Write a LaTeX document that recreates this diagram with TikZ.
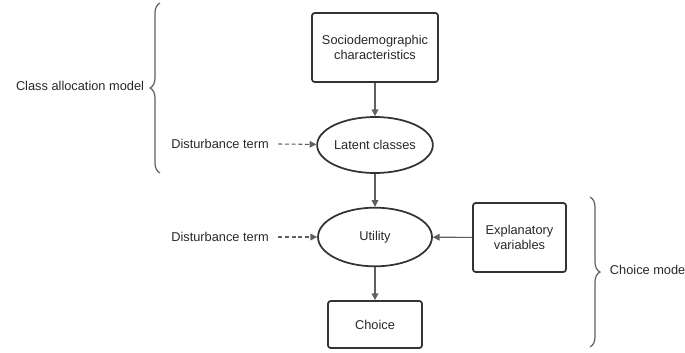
\documentclass[tikz,border=0pt]{standalone}
\usepackage{fontspec}
\setmainfont{Liberation Sans}
\usepackage{tikz}
\usetikzlibrary{arrows.meta,positioning,shapes.geometric,decorations.pathreplacing}
\definecolor{inkgrey}{RGB}{51,51,51}
\definecolor{arrowgrey}{RGB}{95,95,95}
\definecolor{textgrey}{RGB}{40,40,40}
\tikzset{
  base/.style={font=\fontsize{9.6}{11.5}\selectfont, align=center, inner sep=2pt, text=textgrey},
  box/.style={base, rectangle, rounded corners=2pt, draw=inkgrey, fill=white, line width=1.3pt},
  oval/.style={base, ellipse, draw=inkgrey, fill=white, line width=1.3pt, inner sep=0pt},
  lbl/.style={base},
  arr/.style={-{Triangle[length=5pt,width=5pt]}, line width=0.8pt, draw=arrowgrey},
  arrd/.style={arr, dash pattern=on 3pt off 2pt},
  brc/.style={draw=arrowgrey, line width=0.9pt, decorate, decoration={brace, amplitude=7.5pt}},
}
\begin{document}
\begin{tikzpicture}[x=0.75pt,y=-0.75pt]
  \useasboundingbox (0,0) rectangle (685,353);
  % class allocation part
  \node[box,minimum width=94.5pt,minimum height=51.75pt] (socio) at (375,47.5) {Sociodemographic\\characteristics};
  \node[oval,minimum width=82.5pt,minimum height=42pt] (latent) at (375,145) {Latent classes};
  \node[lbl] (dist1) at (220,144) {Disturbance term};
  % choice part
  \node[oval,minimum width=85.5pt,minimum height=44pt] (util) at (375,237) {Utility};
  \node[box,minimum width=70.5pt,minimum height=35.25pt] (choice) at (375,324.5) {Choice};
  \node[box,minimum width=69.75pt,minimum height=51.75pt] (expl) at (519.5,237.5) {Explanatory\\variables};
  \node[lbl] (dist2) at (220,237) {Disturbance term};
  % arrows
  \draw[arr] (socio) -- (latent);
  \draw[arr] (latent) -- (util);
  \draw[arr] (util) -- (choice);
  \draw[arr] (expl) -- (util);
  \draw[arrd] ([xshift=5pt]dist1.east) -- (latent);
  \draw[arrd] ([xshift=5pt]dist2.east) -- (util);
  % braces
  \coordinate (lb1) at (160,173);
  \coordinate (lb2) at (160,3);
  \coordinate (rb1) at (590,197);
  \coordinate (rb2) at (590,347);
  \draw[brc] (lb1) -- (lb2);
  \draw[brc] (rb1) -- (rb2);
  \node[lbl,anchor=east] (classlbl) at (147,86) {Class allocation model};
  \node[lbl,anchor=west] (choicelbl) at (607,270) {Choice model};
\end{tikzpicture}
\end{document}
